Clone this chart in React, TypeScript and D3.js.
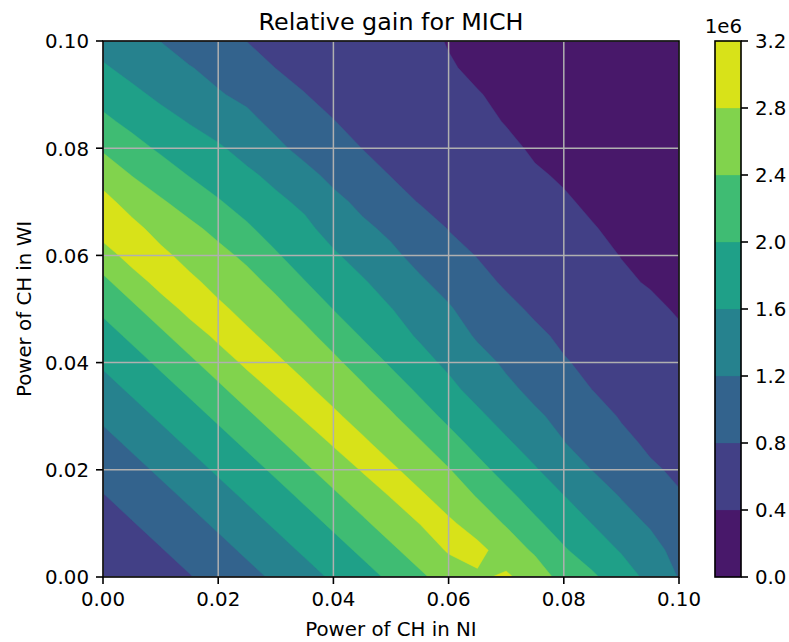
import React from "react";
import * as d3 from "d3";

// Power of CH in NI (x) and in WI (y) sample points
const powerNI = [0, 0.005, 0.01, 0.015, 0.02, 0.025, 0.03, 0.035, 0.04, 0.045, 0.05, 0.055, 0.06, 0.065, 0.07, 0.075, 0.08, 0.085, 0.09, 0.095, 0.1];
const powerWI = [0, 0.005, 0.01, 0.015, 0.02, 0.025, 0.03, 0.035, 0.04, 0.045, 0.05, 0.055, 0.06, 0.065, 0.07, 0.075, 0.08, 0.085, 0.09, 0.095, 0.1];

// Relative gain (x 1e6); row k corresponds to powerWI[k], columns to powerNI
const gainRows: number[][] = [
  [0.45, 0.56, 0.67, 0.78, 0.935, 1.09, 1.26, 1.455, 1.655, 1.85, 2.07, 2.31, 2.62, 2.76, 2.84, 2.67, 2.22, 2.06, 1.78, 1.5, 1.18],
  [0.56, 0.67, 0.78, 0.935, 1.09, 1.26, 1.455, 1.655, 1.85, 2.07, 2.31, 2.62, 2.83, 2.885, 2.66, 2.33, 2.04, 1.8, 1.57, 1.34, 1.07],
  [0.67, 0.78, 0.935, 1.09, 1.26, 1.455, 1.655, 1.85, 2.07, 2.31, 2.62, 2.805, 2.855, 2.66, 2.36, 2.07, 1.82, 1.59, 1.36, 1.16, 0.96],
  [0.78, 0.935, 1.09, 1.26, 1.455, 1.655, 1.85, 2.07, 2.31, 2.62, 2.81, 2.858, 2.649, 2.38, 2.1, 1.84, 1.61, 1.41, 1.18, 1.0, 0.83],
  [0.935, 1.09, 1.26, 1.455, 1.655, 1.85, 2.07, 2.31, 2.62, 2.82, 2.86, 2.653, 2.423, 2.12, 1.86, 1.63, 1.4, 1.19, 1.03, 0.85, 0.74],
  [1.09, 1.26, 1.455, 1.655, 1.85, 2.07, 2.31, 2.62, 2.83, 2.861, 2.657, 2.438, 2.15, 1.885, 1.65, 1.44, 1.21, 1.05, 0.89, 0.74, 0.67],
  [1.26, 1.455, 1.655, 1.85, 2.07, 2.31, 2.62, 2.84, 2.862, 2.664, 2.451, 2.17, 1.905, 1.67, 1.46, 1.25, 1.11, 0.95, 0.77, 0.66, 0.6],
  [1.455, 1.655, 1.85, 2.07, 2.31, 2.62, 2.854, 2.862, 2.672, 2.467, 2.2, 1.93, 1.69, 1.48, 1.27, 1.12, 0.96, 0.795, 0.72, 0.63, 0.54],
  [1.655, 1.85, 2.07, 2.31, 2.62, 2.868, 2.862, 2.68, 2.483, 2.226, 1.95, 1.715, 1.53, 1.316, 1.149, 0.99, 0.82, 0.74, 0.66, 0.575, 0.49],
  [1.85, 2.07, 2.31, 2.62, 2.874, 2.863, 2.687, 2.498, 2.253, 1.97, 1.736, 1.56, 1.36, 1.163, 1.006, 0.849, 0.754, 0.68, 0.6, 0.515, 0.43],
  [2.07, 2.31, 2.62, 2.903, 2.869, 2.692, 2.512, 2.279, 1.991, 1.757, 1.61, 1.42, 1.23, 1.06, 0.863, 0.76, 0.68, 0.6, 0.52, 0.44, 0.38],
  [2.31, 2.62, 2.925, 2.879, 2.689, 2.52, 2.305, 2.016, 1.779, 1.64, 1.44, 1.24, 1.1, 0.877, 0.766, 0.68, 0.6, 0.51, 0.43, 0.385, 0.34],
  [2.62, 2.95, 2.887, 2.68, 2.508, 2.321, 2.042, 1.8, 1.65, 1.45, 1.26, 1.11, 0.9, 0.79, 0.7, 0.61, 0.53, 0.45, 0.395, 0.35, 0.3],
  [2.98, 2.908, 2.666, 2.49, 2.295, 2.058, 1.821, 1.69, 1.45, 1.26, 1.14, 0.95, 0.79, 0.67, 0.6, 0.53, 0.47, 0.41, 0.36, 0.31, 0.27],
  [2.917, 2.654, 2.444, 2.242, 2.032, 1.834, 1.68, 1.52, 1.28, 1.13, 0.92, 0.784, 0.67, 0.6, 0.54, 0.48, 0.42, 0.37, 0.33, 0.29, 0.24],
  [2.651, 2.39, 2.19, 1.983, 1.813, 1.67, 1.5, 1.29, 1.12, 0.934, 0.79, 0.724, 0.61, 0.54, 0.48, 0.42, 0.38, 0.34, 0.3, 0.26, 0.21],
  [2.347, 2.137, 1.94, 1.77, 1.65, 1.46, 1.269, 1.106, 0.949, 0.796, 0.73, 0.663, 0.57, 0.5, 0.44, 0.375, 0.34, 0.31, 0.27, 0.23, 0.19],
  [2.084, 1.898, 1.728, 1.58, 1.419, 1.278, 1.12, 0.963, 0.806, 0.736, 0.669, 0.602, 0.52, 0.45, 0.39, 0.35, 0.31, 0.28, 0.24, 0.2, 0.17],
  [1.855, 1.685, 1.525, 1.3875, 1.225, 1.129, 0.977, 0.805, 0.742, 0.675, 0.609, 0.542, 0.475, 0.4085, 0.365, 0.326, 0.286, 0.246, 0.211, 0.185, 0.15],
  [1.643, 1.4875, 1.356, 1.215, 1.114, 0.96, 0.795, 0.748, 0.681, 0.615, 0.548, 0.482, 0.415, 0.369, 0.329, 0.29, 0.25, 0.214, 0.187, 0.161, 0.13],
  [1.45, 1.33, 1.195, 1.065, 0.93, 0.795, 0.72, 0.66, 0.61, 0.56, 0.51, 0.45, 0.39, 0.34, 0.3, 0.26, 0.23, 0.2, 0.17, 0.14, 0.12],
];

const levels = [0, 0.4, 0.8, 1.2, 1.6, 2.0, 2.4, 2.8, 3.2];
const xTicks = [0, 0.02, 0.04, 0.06, 0.08, 0.1];
const yTicks = [0, 0.02, 0.04, 0.06, 0.08, 0.1];

const W = 789;
const H = 642;
const plot = { left: 103, right: 679, top: 41, bottom: 577 };
const cbar = { left: 715, right: 741 };
const FONT = "'DejaVu Sans', sans-serif";
const FS = 19.8;

export default function App() {
  const xScale = d3.scaleLinear().domain([0, 0.1]).range([plot.left, plot.right]);
  const yScale = d3.scaleLinear().domain([0, 0.1]).range([plot.bottom, plot.top]);
  const nx = powerNI.length;
  const ny = powerWI.length;
  const gx = d3.scaleLinear().domain([0.5, nx - 0.5]).range([powerNI[0], powerNI[nx - 1]]);
  const gy = d3.scaleLinear().domain([0.5, ny - 0.5]).range([powerWI[0], powerWI[ny - 1]]);
  const color = d3.scaleSequential(d3.interpolateViridis).domain([levels[0], levels[levels.length - 1]]);
  const bandColor = (i: number) => color((levels[i] + levels[i + 1]) / 2);

  const values = gainRows.flat();
  const contours = d3.contours().size([nx, ny]).thresholds(levels.slice(0, -1))(values);

  const toPath = (mp: any) =>
    mp.coordinates
      .map((poly: number[][][]) =>
        poly
          .map(
            (ring) =>
              "M" +
              ring.map(([cx, cy]) => `${xScale(gx(cx)).toFixed(2)},${yScale(gy(cy)).toFixed(2)}`).join("L") +
              "Z"
          )
          .join("")
      )
      .join("");

  const cbScale = d3.scaleLinear().domain([levels[0], levels[levels.length - 1]]).range([plot.bottom, plot.top]);
  const fmt2 = d3.format(".2f");
  const fmt1 = d3.format(".1f");

  return (
    <svg width={W} height={H} style={{ position: "absolute", left: 0, top: 0, background: "#fff" }} fontFamily={FONT}>
      <defs>
        <clipPath id="plotclip">
          <rect x={plot.left} y={plot.top} width={plot.right - plot.left} height={plot.bottom - plot.top} />
        </clipPath>
      </defs>
      <g clipPath="url(#plotclip)">
        {contours.map((c, i) => (
          <path key={i} d={toPath(c)} fill={bandColor(i)} stroke={bandColor(i)} strokeWidth={0.4} />
        ))}
        {xTicks.map((t, i) => (
          <line key={"gx" + i} x1={xScale(t)} x2={xScale(t)} y1={plot.top} y2={plot.bottom} stroke="#b0b0b0" strokeWidth={1.5} />
        ))}
        {yTicks.map((t, i) => (
          <line key={"gy" + i} x1={plot.left} x2={plot.right} y1={yScale(t)} y2={yScale(t)} stroke="#b0b0b0" strokeWidth={1.5} />
        ))}
      </g>
      <rect x={plot.left} y={plot.top} width={plot.right - plot.left} height={plot.bottom - plot.top} fill="none" stroke="#000" strokeWidth={1.6} />
      {xTicks.map((t, i) => (
        <g key={"xt" + i}>
          <line x1={xScale(t)} x2={xScale(t)} y1={plot.bottom} y2={plot.bottom + 7} stroke="#000" strokeWidth={1.6} />
          <text x={xScale(t)} y={606} textAnchor="middle" fontSize={FS} fill="#000">{fmt2(t)}</text>
        </g>
      ))}
      {yTicks.map((t, i) => (
        <g key={"yt" + i}>
          <line x1={plot.left - 7} x2={plot.left} y1={yScale(t)} y2={yScale(t)} stroke="#000" strokeWidth={1.6} />
          <text x={89} y={yScale(t) + 7.3} textAnchor="end" fontSize={FS} fill="#000">{fmt2(t)}</text>
        </g>
      ))}
      <text x={(plot.left + plot.right) / 2} y={635.5} textAnchor="middle" fontSize={FS} fill="#000">Power of CH in NI</text>
      <text transform={`translate(31,${(plot.top + plot.bottom) / 2}) rotate(-90)`} textAnchor="middle" fontSize={FS} fill="#000">Power of CH in WI</text>
      <text x={(plot.left + plot.right) / 2} y={30} textAnchor="middle" fontSize={23.8} fill="#000">Relative gain for MICH</text>

      {levels.slice(0, -1).map((l, i) => (
        <rect key={"cb" + i} x={cbar.left} y={cbScale(levels[i + 1])} width={cbar.right - cbar.left} height={cbScale(levels[i]) - cbScale(levels[i + 1])} fill={bandColor(i)} stroke={bandColor(i)} strokeWidth={0.3} />
      ))}
      <rect x={cbar.left} y={plot.top} width={cbar.right - cbar.left} height={plot.bottom - plot.top} fill="none" stroke="#000" strokeWidth={1.6} />
      {levels.map((l, i) => (
        <g key={"ct" + i}>
          <line x1={cbar.right} x2={cbar.right + 7} y1={cbScale(l)} y2={cbScale(l)} stroke="#000" strokeWidth={1.6} />
          <text x={755} y={cbScale(l) + 7.3} fontSize={FS} fill="#000">{fmt1(l)}</text>
        </g>
      ))}
      <text x={742} y={33} textAnchor="end" fontSize={FS} fill="#000">1e6</text>
    </svg>
  );
}
